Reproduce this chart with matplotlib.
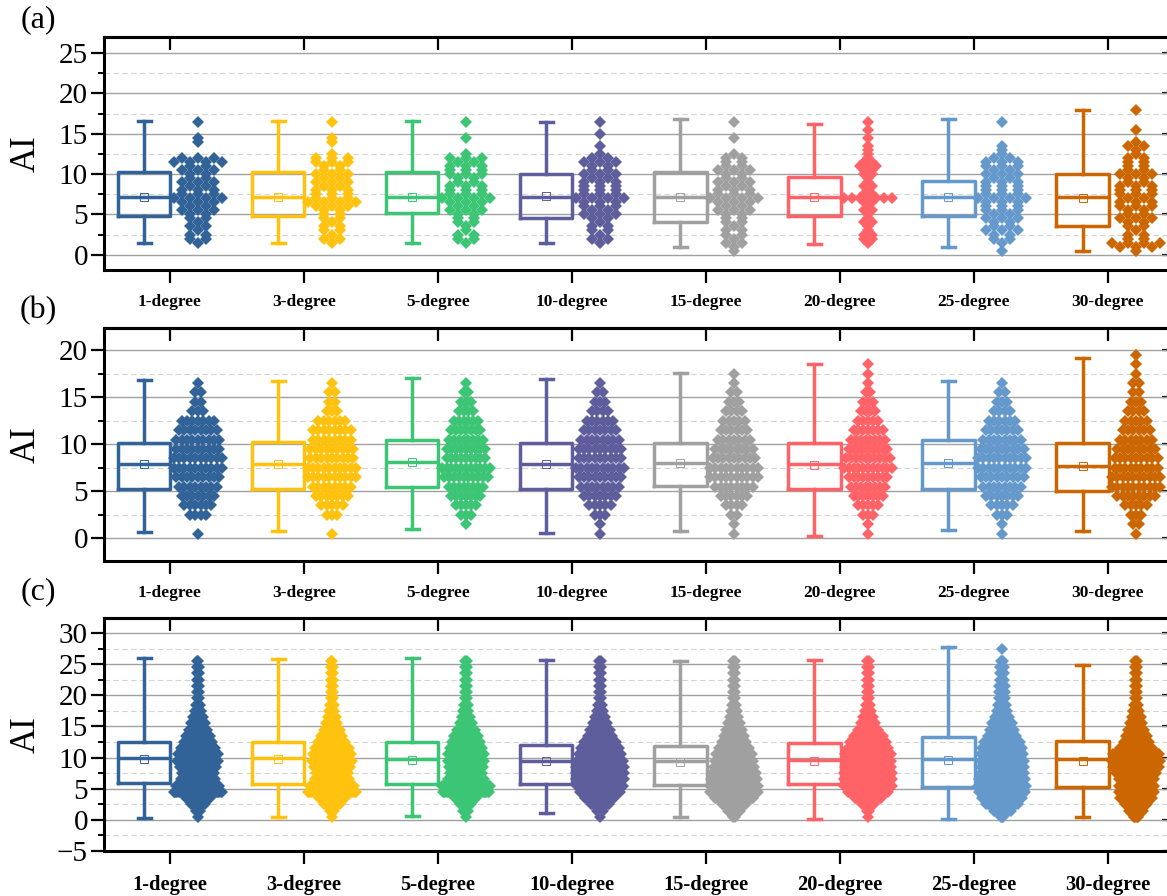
import numpy as np
import matplotlib
matplotlib.use("Agg")
import matplotlib.pyplot as plt
from matplotlib.ticker import MultipleLocator

plt.rcParams['font.family'] = ['Liberation Serif', 'DejaVu Serif']

groups = ['1-degree', '3-degree', '5-degree', '10-degree',
          '15-degree', '20-degree', '25-degree', '30-degree']
colors = ['#316298', '#FEC20F', '#3CC574', '#5F5E9C',
          '#A0A0A0', '#FF6367', '#6599CC', '#CC6600']

# box statistics (min, q1, median, q3, max, mean)
a_min = [1.5, 1.4, 1.5, 1.5, 0.95, 1.3, 0.95, 0.5]
a_q1 = [4.8, 4.8, 5.2, 4.5, 4.1, 4.8, 4.75, 3.5]
a_med = [7.2, 7.2, 7.2, 7.2, 7.2, 7.2, 7.2, 7.1]
a_q3 = [10.2, 10.2, 10.2, 10.0, 10.3, 9.65, 9.2, 10.0]
a_max = [16.6, 16.6, 16.6, 16.5, 16.8, 16.2, 16.8, 17.9]
a_mean = [7.2, 7.2, 7.2, 7.3, 7.1, 7.2, 7.2, 7.0]

b_min = [0.7, 0.8, 1.0, 0.6, 0.8, 0.3, 0.9, 0.8]
b_q1 = [5.3, 5.3, 5.5, 5.3, 5.6, 5.2, 5.3, 5.0]
b_med = [7.9, 7.9, 8.1, 7.9, 8.0, 7.9, 8.0, 7.7]
b_q3 = [10.1, 10.2, 10.5, 10.1, 10.1, 10.1, 10.4, 10.1]
b_max = [16.8, 16.7, 17.0, 16.9, 17.6, 18.5, 16.7, 19.2]
b_mean = [7.9, 7.9, 8.1, 7.9, 8.0, 7.8, 8.0, 7.7]

c_min = [0.3, 0.4, 0.65, 1.1, 0.4, 0.1, 0.1, 0.4]
c_q1 = [5.9, 5.8, 5.8, 5.8, 5.6, 5.7, 5.25, 5.35]
c_med = [9.9, 9.9, 9.75, 9.5, 9.4, 9.65, 9.8, 9.75]
c_q3 = [12.5, 12.5, 12.5, 12.0, 11.8, 12.3, 13.3, 12.7]
c_max = [26.0, 25.8, 25.9, 25.7, 25.5, 25.6, 27.7, 24.9]
c_mean = [9.7, 9.7, 9.6, 9.4, 9.3, 9.5, 9.6, 9.5]

# swarm: number of points per AI bin
a_levels = np.arange(0.5, 18.25, 0.5)
a_counts = [
    [0, 0, 1, 2, 2, 1, 2, 1, 2, 2, 3, 2, 3, 4, 3, 3, 2, 3, 2, 2, 3, 2, 4, 3, 0, 0, 0, 1, 1, 0, 0, 0, 1, 0, 0, 0],
    [0, 0, 1, 2, 1, 2, 2, 1, 2, 2, 2, 3, 4, 3, 3, 3, 2, 3, 2, 3, 2, 2, 3, 3, 1, 0, 0, 1, 1, 0, 0, 0, 1, 0, 0, 0],
    [0, 0, 1, 2, 2, 1, 1, 2, 2, 2, 3, 2, 3, 4, 3, 3, 3, 2, 2, 3, 3, 3, 2, 3, 1, 0, 0, 0, 1, 0, 0, 0, 1, 0, 0, 0],
    [0, 0, 1, 2, 1, 2, 2, 1, 2, 3, 2, 3, 3, 4, 3, 3, 3, 3, 2, 3, 2, 2, 3, 2, 1, 0, 1, 0, 0, 1, 0, 0, 1, 0, 0, 0],
    [1, 1, 2, 1, 2, 2, 1, 2, 2, 2, 3, 2, 3, 4, 3, 3, 2, 3, 2, 2, 3, 2, 2, 2, 1, 0, 0, 0, 1, 0, 0, 0, 1, 0, 0, 0],
    [0, 0, 1, 2, 2, 1, 1, 2, 1, 1, 2, 1, 2, 7, 2, 1, 2, 1, 1, 2, 2, 3, 2, 1, 1, 1, 1, 0, 1, 0, 1, 0, 1, 0, 0, 0],
    [1, 0, 1, 2, 2, 3, 2, 2, 3, 2, 3, 3, 3, 4, 3, 3, 3, 3, 2, 3, 2, 3, 3, 2, 1, 1, 1, 0, 0, 0, 0, 0, 1, 0, 0, 0],
    [1, 3, 4, 2, 2, 1, 2, 2, 3, 2, 2, 3, 3, 2, 3, 3, 3, 2, 2, 3, 2, 2, 2, 2, 1, 1, 2, 1, 0, 0, 1, 0, 0, 0, 0, 1],
]

b_levels = np.arange(0.5, 20, 1.0)
b_counts = [
    [1, 0, 4, 6, 7, 8, 9, 10, 10, 9, 9, 8, 7, 3, 2, 2, 1, 0, 0, 0],
    [1, 0, 3, 5, 7, 8, 10, 10, 9, 9, 8, 8, 6, 3, 2, 2, 1, 0, 0, 0],
    [0, 1, 3, 5, 7, 8, 10, 11, 9, 9, 8, 7, 6, 4, 3, 2, 1, 0, 0, 0],
    [1, 1, 3, 5, 7, 8, 9, 10, 9, 9, 8, 7, 6, 4, 3, 2, 1, 0, 0, 0],
    [1, 1, 2, 4, 6, 8, 10, 10, 9, 8, 7, 6, 5, 4, 3, 2, 1, 1, 0, 0],
    [1, 1, 3, 5, 7, 8, 9, 11, 10, 9, 8, 7, 5, 4, 3, 2, 1, 1, 1, 0],
    [1, 1, 3, 5, 7, 8, 9, 10, 10, 9, 8, 7, 6, 4, 3, 2, 1, 0, 0, 0],
    [1, 2, 3, 5, 8, 10, 10, 9, 9, 8, 7, 6, 5, 4, 3, 2, 2, 1, 1, 1],
]

c_levels = np.arange(0.5, 28, 1.0)
c_counts = [
    [1, 4, 12, 20, 40, 36, 28, 27, 30, 34, 33, 29, 24, 20, 16, 12, 9, 6, 4, 3, 3, 3, 3, 3, 3, 2, 0, 0],
    [1, 4, 14, 22, 40, 36, 28, 27, 30, 33, 32, 28, 23, 18, 14, 10, 7, 5, 4, 3, 3, 3, 3, 3, 3, 2, 0, 0],
    [1, 5, 10, 18, 38, 40, 30, 27, 28, 30, 30, 27, 24, 20, 16, 11, 7, 5, 4, 3, 3, 3, 2, 2, 3, 2, 0, 0],
    [1, 6, 14, 22, 30, 34, 36, 36, 36, 34, 32, 28, 24, 19, 15, 11, 8, 6, 4, 3, 3, 3, 2, 2, 2, 2, 0, 0],
    [2, 10, 20, 30, 38, 38, 36, 34, 32, 30, 28, 24, 20, 16, 13, 10, 7, 5, 4, 3, 3, 3, 2, 2, 2, 2, 0, 0],
    [1, 3, 10, 20, 30, 36, 36, 36, 35, 35, 34, 30, 27, 22, 16, 11, 8, 6, 4, 3, 3, 3, 2, 2, 2, 2, 0, 0],
    [3, 14, 25, 32, 36, 38, 36, 34, 34, 34, 33, 32, 28, 22, 19, 16, 12, 9, 7, 6, 5, 5, 4, 4, 4, 3, 0, 1],
    [4, 12, 18, 26, 28, 28, 28, 32, 36, 38, 36, 26, 20, 17, 13, 10, 8, 6, 4, 3, 3, 3, 3, 2, 2, 2, 0, 0],
]

panels = [
    dict(tag='(a)', ylim=(-1.9, 27.0), box=(a_min, a_q1, a_med, a_q3, a_max, a_mean),
         levels=a_levels, counts=a_counts, top=37, bot=270, lab=12.5, tagy=20),
    dict(tag='(b)', ylim=(-2.4, 22.35), box=(b_min, b_q1, b_med, b_q3, b_max, b_mean),
         levels=b_levels, counts=b_counts, top=328, bot=561, lab=12.5, tagy=311),
    dict(tag='(c)', ylim=(-5.0, 32.4), box=(c_min, c_q1, c_med, c_q3, c_max, c_mean),
         levels=c_levels, counts=c_counts, top=618, bot=851, lab=14.8, tagy=592),
]

W, H = 1167, 896
L, R = 104, 1175
fig = plt.figure(figsize=(W / 100, H / 100), dpi=100)

xpos = np.arange(len(groups))
swarm_w = 0.36

for p in panels:
    ax = fig.add_axes([L / W, 1 - p['bot'] / H, (R - L) / W, (p['bot'] - p['top']) / H])
    lo, q1, md, q3, hi, mn = p['box']
    for k in range(len(groups)):
        c = colors[k]
        st = dict(whislo=lo[k], q1=q1[k], med=md[k], q3=q3[k], whishi=hi[k],
                  mean=mn[k], fliers=[])
        ax.bxp([st], positions=[xpos[k] - 0.19], widths=0.39, showmeans=True,
               showfliers=False, manage_ticks=False, capwidths=0.1,
               boxprops=dict(color=c, lw=2.5),
               whiskerprops=dict(color=c, lw=2.5),
               capprops=dict(color=c, lw=2.5),
               medianprops=dict(color=c, lw=2.5),
               meanprops=dict(marker='s', ms=6, mfc='none', mec=c, mew=0.7),
               zorder=2)
        cnt = np.asarray(p['counts'][k])
        step = swarm_w / max(cnt.max() - 1, 1)
        xs, ys = [], []
        for lv, n in zip(p['levels'], cnt):
            if n == 0:
                continue
            off = (np.arange(n) - (n - 1) / 2) * step
            xs.extend(xpos[k] + 0.21 + off)
            ys.extend([lv] * n)
        ax.plot(xs, ys, 'D', ms=6, color=c, mew=0, zorder=3)

    ax.set_xlim(-0.49, 7.5)
    ax.set_ylim(*p['ylim'])
    ax.set_xticks(xpos)
    ax.set_xticklabels(groups, fontweight='bold', fontsize=p['lab'])
    ax.tick_params(axis='x', direction='out', length=9.5, width=1.6, pad=8)
    ax.yaxis.set_major_locator(MultipleLocator(5))
    ax.yaxis.set_minor_locator(MultipleLocator(2.5))
    ax.tick_params(axis='y', which='major', direction='out', length=9.5, width=1.6,
                   labelsize=21, pad=2)
    ax.tick_params(axis='y', which='minor', direction='out', length=4.5, width=1.4)
    ax.set_axisbelow(True)
    ax.yaxis.grid(True, which='major', color='#a0a0a0', lw=1.0)
    ax.yaxis.grid(True, which='minor', color='#d4d4d4', lw=0.8, ls=(0, (5, 3)))
    for s in ax.spines.values():
        s.set_linewidth(2.2)

    top = ax.secondary_xaxis('top')
    top.set_xticks(xpos)
    top.set_xticklabels([])
    top.tick_params(direction='in', length=9.5, width=1.6)
    top.spines['top'].set_linewidth(2.2)

    right = ax.secondary_yaxis('right')
    right.yaxis.set_major_locator(MultipleLocator(5))
    right.tick_params(direction='in', length=9.5, width=1.6, labelright=False)

    ymid = 1 - (p['top'] + p['bot']) / 2 / H
    fig.text(26 / W, ymid, 'AI', rotation=90, ha='center', va='center', fontsize=25)
    fig.text(38 / W, 1 - p['tagy'] / H, p['tag'], ha='center', va='center', fontsize=23)

fig.savefig('out.png', dpi=100)
